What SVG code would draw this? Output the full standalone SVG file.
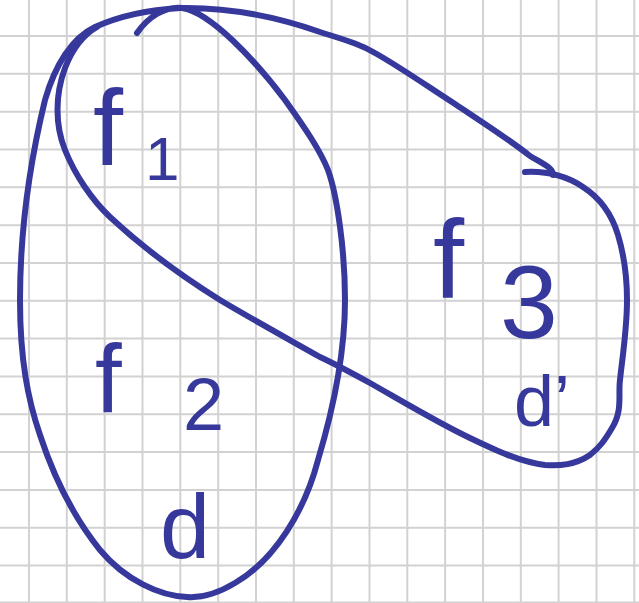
<svg xmlns="http://www.w3.org/2000/svg" width="639" height="603" viewBox="0 0 639 603">
<defs>
<style>
.grid line{stroke:#d2d2d2;stroke-width:2}
.pen{fill:none;stroke:#36399b;stroke-width:6;stroke-linecap:round;stroke-linejoin:round}
.lbl{font-family:"Liberation Sans","DejaVu Sans",sans-serif;fill:#36399b}
</style>
</defs>
<rect width="639" height="603" fill="#ffffff"/>
<g id="grid" class="grid">
<line x1="29" y1="0" x2="29" y2="603"/><line x1="66.8" y1="0" x2="66.8" y2="603"/><line x1="104.7" y1="0" x2="104.7" y2="603"/><line x1="142.5" y1="0" x2="142.5" y2="603"/><line x1="180.3" y1="0" x2="180.3" y2="603"/><line x1="218.2" y1="0" x2="218.2" y2="603"/><line x1="256" y1="0" x2="256" y2="603"/><line x1="293.8" y1="0" x2="293.8" y2="603"/><line x1="331.6" y1="0" x2="331.6" y2="603"/><line x1="369.5" y1="0" x2="369.5" y2="603"/><line x1="407.3" y1="0" x2="407.3" y2="603"/><line x1="445.1" y1="0" x2="445.1" y2="603"/><line x1="483" y1="0" x2="483" y2="603"/><line x1="520.8" y1="0" x2="520.8" y2="603"/><line x1="558.6" y1="0" x2="558.6" y2="603"/><line x1="596.5" y1="0" x2="596.5" y2="603"/><line x1="634.3" y1="0" x2="634.3" y2="603"/>
<line x1="0" y1="36" x2="639" y2="36"/><line x1="0" y1="73.8" x2="639" y2="73.8"/><line x1="0" y1="111.7" x2="639" y2="111.7"/><line x1="0" y1="149.5" x2="639" y2="149.5"/><line x1="0" y1="187.3" x2="639" y2="187.3"/><line x1="0" y1="225.2" x2="639" y2="225.2"/><line x1="0" y1="263" x2="639" y2="263"/><line x1="0" y1="300.8" x2="639" y2="300.8"/><line x1="0" y1="338.6" x2="639" y2="338.6"/><line x1="0" y1="376.5" x2="639" y2="376.5"/><line x1="0" y1="414.3" x2="639" y2="414.3"/><line x1="0" y1="452.1" x2="639" y2="452.1"/><line x1="0" y1="490" x2="639" y2="490"/><line x1="0" y1="527.8" x2="639" y2="527.8"/><line x1="0" y1="565.6" x2="639" y2="565.6"/><line x1="0" y1="602.5" x2="639" y2="602.5"/>
</g>
<g id="connectors">
<path id="set-d" class="pen" d="M137,33 C148,17 165,6 182,8 C210,12 255,60 285,100 C305,128 320,150 328,170 C337,195 345,250 345,300 C345,360 330,420 318,460 C305,510 275,560 235,583 C215,595 200,598 187,597 C160,596 125,580 100,550 C80,525 58,490 40,435 C28,400 20,360 20,300 C20,240 28,170 45,100 C55,65 72,38 95,27 C115,18 145,10 180,8 C230,7 280,18 320,32 C345,40 360,44 375,53 C400,67 430,88 455,104 C485,124 510,140 530,156 C545,165 553,168 553,175"/>
<path id="set-d-prime" class="pen" d="M525,172 C545,171 565,175 583,187 C600,198 612,215 618,235 C624,255 627,280 627,300 C627,330 622,360 620,380 C618,395 623,410 612,428 C605,440 600,447 590,455 C575,465 560,466 545,465 C520,462 495,450 470,438 C440,424 400,400 370,383 C350,372 335,364 320,357 C290,340 250,318 220,300 C180,275 140,245 110,217 C92,200 75,175 65,150 C55,125 55,95 65,68 C72,50 83,35 97,27"/>
</g>
<g id="labels">
<text id="f1" class="lbl" x="93" y="165" font-size="108">f<tspan x="145" y="180" font-size="62">1</tspan></text>
<text id="f2" class="lbl" x="95" y="412" font-size="96">f<tspan x="183" y="430" font-size="74">2</tspan></text>
<text id="f3" class="lbl" x="433" y="298" font-size="112">f<tspan x="500" y="338" font-size="104">3</tspan></text>
<text id="d" class="lbl" x="160" y="558" font-size="90">d</text>
<text id="d-prime" class="lbl" x="514" y="426" font-size="72">d’</text>
</g>
</svg>
